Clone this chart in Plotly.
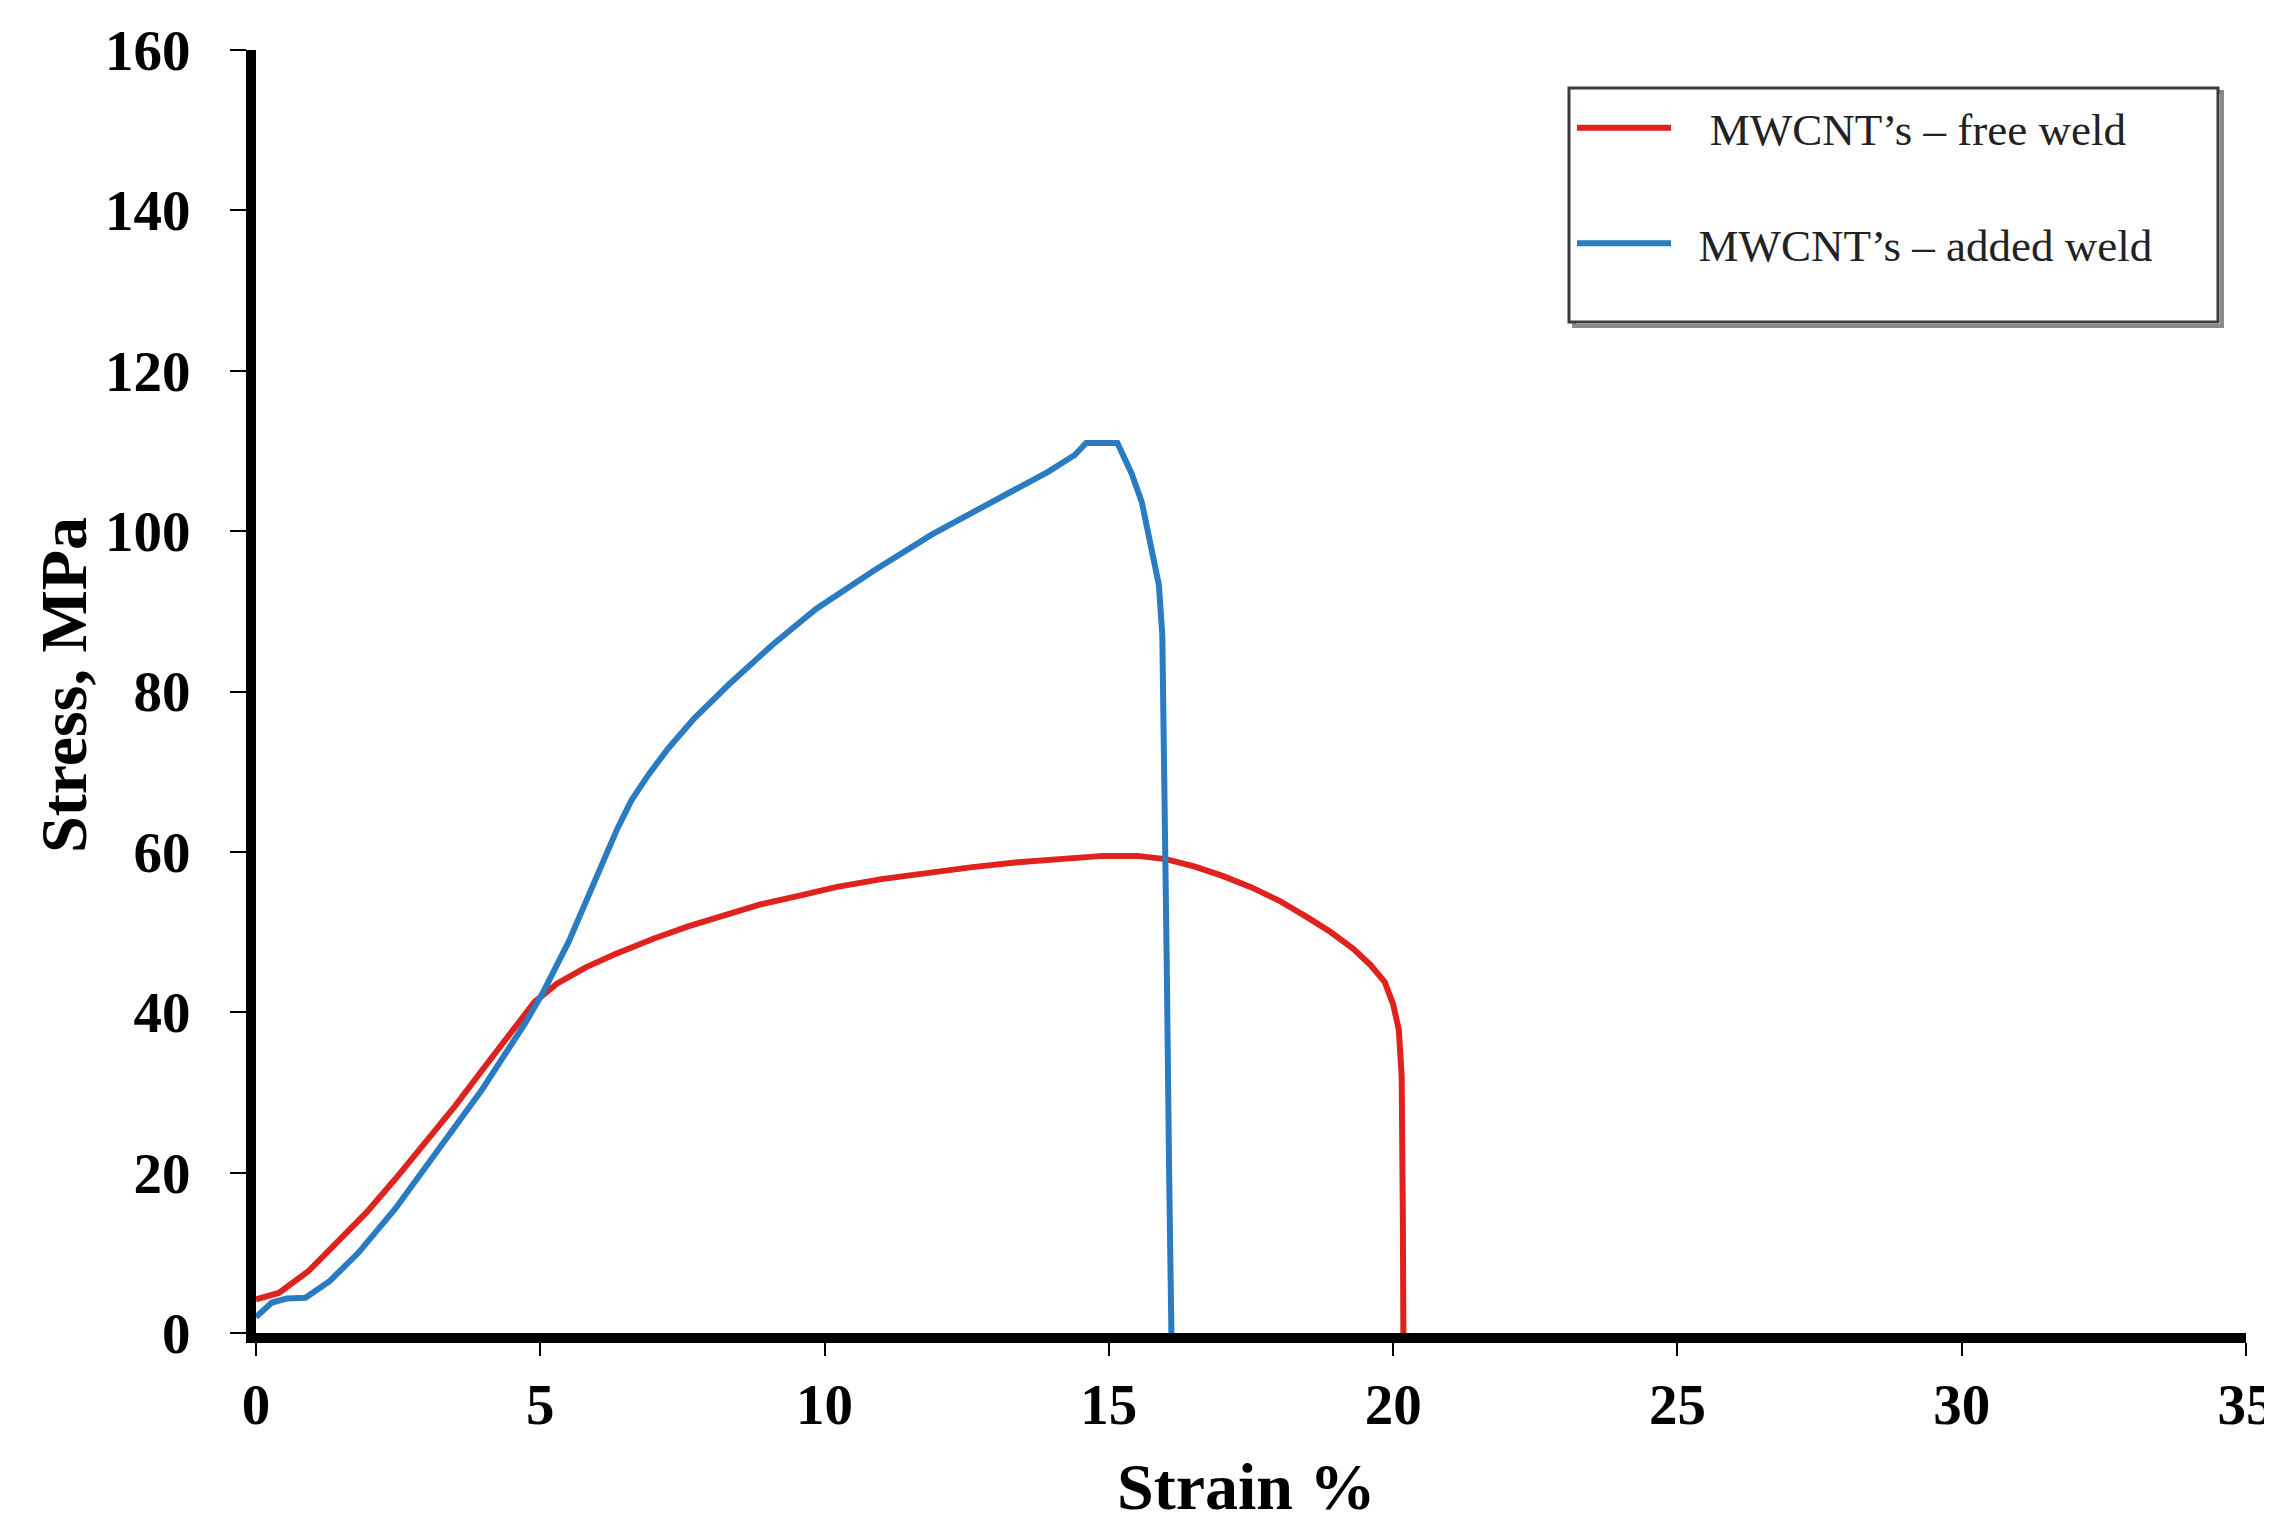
import plotly.graph_objects as go

# Strain (%) / stress (MPa)
free_strain = [0.0, 0.4, 0.92, 1.4, 1.94, 2.45, 2.96, 3.5, 3.98, 4.5, 4.9, 5.3, 5.8, 6.3,
               7.0, 7.6, 8.3, 8.9, 9.6, 10.2, 11.0, 11.8, 12.6, 13.4, 14.2, 14.9, 15.5,
               16.0, 16.5, 17.0, 17.5, 18.0, 18.5, 18.9, 19.3, 19.6, 19.85, 20.0, 20.1,
               20.15, 20.17, 20.18]
free_stress = [4.2, 5.0, 7.7, 11.2, 15.0, 19.2, 23.6, 28.3, 32.8, 37.6, 41.3, 43.6, 45.6, 47.2,
               49.2, 50.7, 52.3, 53.5, 54.6, 55.6, 56.6, 57.4, 58.1, 58.7, 59.2, 59.5, 59.5,
               59.1, 58.2, 57.0, 55.6, 53.9, 51.8, 50.0, 47.9, 45.9, 43.8, 41.0, 37.8,
               32.0, 15.0, 0.0]

added_strain = [0.0, 0.28, 0.54, 0.87, 1.3, 1.8, 2.45, 3.2, 3.98, 4.74, 5.05, 5.5, 6.0, 6.35,
                6.6, 6.9, 7.25, 7.7, 8.32, 9.08, 9.85, 10.87, 11.89, 12.9, 13.93, 14.4, 14.6,
                15.15, 15.4, 15.58, 15.76, 15.88, 15.94, 15.98, 16.02, 16.06, 16.1]
added_stress = [2.0, 3.8, 4.3, 4.4, 6.5, 10.0, 15.5, 22.7, 30.4, 38.7, 42.5, 48.8, 57.0, 62.8,
                66.4, 69.6, 72.9, 76.6, 80.9, 85.8, 90.3, 95.1, 99.6, 103.4, 107.4, 109.5, 111.0,
                111.0, 107.2, 103.6, 97.4, 93.3, 87.1, 70.0, 45.0, 20.0, 0.0]

series_names = ["MWCNT\u2019s \u2013 free weld", "MWCNT\u2019s \u2013 added weld"]
series_colors = ["#e0221e", "#2b7bc2"]

x_ticks = [0, 5, 10, 15, 20, 25, 30, 35]
y_ticks = [0, 20, 40, 60, 80, 100, 120, 140, 160]

x_title = "Strain %"
y_title = "Stress, MPa"

W, H = 2272, 1519
L, R, T, B = 248, 34, 42, 194
PW, PH = W - L - R, H - T - B


def px(xf):
    return (xf - L) / PW


def py(yf):
    return (H - B - yf) / PH


fig = go.Figure()
fig.add_trace(go.Scatter(x=free_strain, y=free_stress, mode="lines",
                         name="\u00a0\u00a0\u00a0" + series_names[0],
                         legendgroup="a", line=dict(color=series_colors[0], width=6)))
fig.add_trace(go.Scatter(x=added_strain, y=added_stress, mode="lines",
                         name="\u00a0\u00a0" + series_names[1],
                         legendgroup="b", line=dict(color=series_colors[1], width=6)))

tick_font = dict(family="Liberation Serif", size=57, color="black", weight="bold")
title_font = dict(family="Liberation Serif", size=66, color="black", weight="bold")

fig.update_layout(
    width=W, height=H,
    margin=dict(l=L, r=R, t=T, b=B, autoexpand=False),
    paper_bgcolor="white", plot_bgcolor="white",
    showlegend=True,
    legend=dict(
        x=px(1564), y=py(84),
        xanchor="left", yanchor="top",
        bgcolor="rgba(0,0,0,0)", borderwidth=0,
        font=dict(family="Liberation Serif", size=45, color="#222"),
        traceorder="grouped", tracegroupgap=54, itemwidth=94,
    ),
    xaxis=dict(
        range=[0, 35], tickvals=x_ticks, ticktext=[str(v) for v in x_ticks],
        showgrid=False, zeroline=False, showline=True, linewidth=10, linecolor="black",
        ticks="outside", ticklen=13, tickwidth=2, tickcolor="black",
        tickfont=tick_font, ticklabelstandoff=0,
    ),
    yaxis=dict(
        range=[0, 160], tickvals=y_ticks, ticktext=[str(v) for v in y_ticks],
        showgrid=False, zeroline=False, showline=True, linewidth=10, linecolor="black",
        ticks="outside", ticklen=16, tickwidth=2, tickcolor="black",
        tickfont=tick_font, ticklabelstandoff=28,
    ),
    annotations=[
        dict(text=x_title, xref="paper", yref="paper", x=px(1238), y=py(1478),
             xanchor="center", yanchor="middle", showarrow=False, font=title_font),
        dict(text=y_title, xref="paper", yref="paper", x=px(55), y=py(677),
             xanchor="center", yanchor="middle", showarrow=False, font=title_font,
             textangle=-90),
    ],
    shapes=[
        dict(type="rect", xref="paper", yref="paper",
             x0=px(1566), x1=px(2214), y0=py(318), y1=py(84),
             line=dict(color="#8a8a8a", width=4), fillcolor="rgba(0,0,0,0)", layer="below"),
        dict(type="rect", xref="paper", yref="paper",
             x0=px(1561), x1=px(2210), y0=py(314), y1=py(80),
             line=dict(color="#3a3a3a", width=3), fillcolor="white", layer="below"),
    ],
)

fig.write_html("out.html")
